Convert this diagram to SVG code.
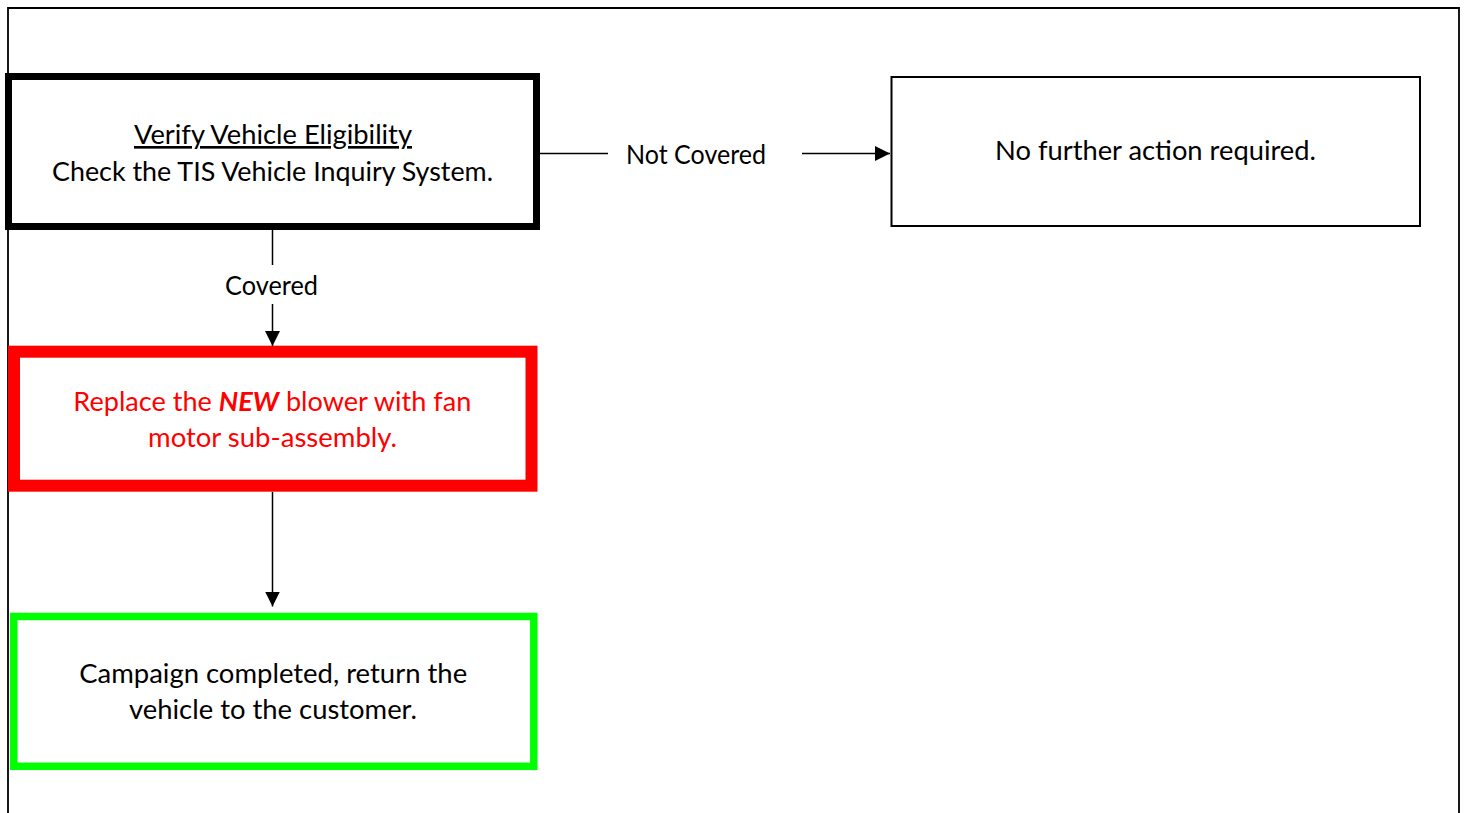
<svg xmlns="http://www.w3.org/2000/svg" width="1466" height="813" viewBox="0 0 1466 813">
<style>
  text { font-family: Lato, "Noto Sans", "Liberation Sans", sans-serif; font-size: 26.5px; fill: #000; text-anchor: middle; }
  .red { fill: #FF0000; }
  .box { fill: #FFFFFF; }
  .conn { stroke: #000; stroke-width: 1.5; fill: none; }
</style>
<defs>
  <marker id="arrow" markerWidth="16" markerHeight="16" refX="15" refY="7.5" orient="auto" markerUnits="userSpaceOnUse">
    <path d="M0,0 L15,7.5 L0,15 Z" fill="#000"/>
  </marker>
</defs>
<rect x="0" y="0" width="1466" height="813" fill="#FFFFFF"/>
<path id="frame" d="M8,813 V8 H1459 V813" fill="none" stroke="#000" stroke-width="1.8"/>

<g id="connectors">
  <line class="conn" x1="540" y1="153.5" x2="608" y2="153.5"/>
  <line class="conn" x1="802" y1="153.5" x2="890" y2="153.5" marker-end="url(#arrow)"/>
  <text x="696" y="164" textLength="140" lengthAdjust="spacingAndGlyphs">Not Covered</text>
  <line class="conn" x1="272.5" y1="230" x2="272.5" y2="265"/>
  <line class="conn" x1="272.5" y1="304" x2="272.5" y2="346" marker-end="url(#arrow)"/>
  <text x="271.5" y="295" textLength="93" lengthAdjust="spacingAndGlyphs">Covered</text>
  <line class="conn" x1="272.5" y1="492" x2="272.5" y2="606.5" marker-end="url(#arrow)"/>
</g>

<g id="verify">
  <rect class="box" x="8.5" y="76.5" width="528" height="150" stroke="#000" stroke-width="7"/>
  <text x="273" y="144" textLength="278" lengthAdjust="spacingAndGlyphs" text-decoration="underline">Verify Vehicle Eligibility</text>
  <text x="272.5" y="180.5" textLength="441" lengthAdjust="spacingAndGlyphs">Check the TIS Vehicle Inquiry System.</text>
</g>

<g id="no-action">
  <rect class="box" x="891.5" y="77" width="528.5" height="149" stroke="#000" stroke-width="2"/>
  <text x="1155.5" y="160" textLength="321" lengthAdjust="spacingAndGlyphs">No further action required.</text>
</g>

<g id="replace">
  <rect class="box" x="14" y="351.7" width="517.5" height="134" stroke="#FF0000" stroke-width="12"/>
  <text class="red" x="272.3" y="411" textLength="398" lengthAdjust="spacingAndGlyphs">Replace the <tspan font-weight="bold" font-style="italic">NEW</tspan> blower with fan</text>
  <text class="red" x="272.5" y="446.7" textLength="249" lengthAdjust="spacingAndGlyphs">motor sub-assembly.</text>
</g>

<g id="complete">
  <rect class="box" x="13.8" y="616.5" width="520" height="149.8" stroke="#00FF00" stroke-width="7.5"/>
  <text x="273.2" y="683.3" textLength="388" lengthAdjust="spacingAndGlyphs">Campaign completed, return the</text>
  <text x="273" y="719.3" textLength="288" lengthAdjust="spacingAndGlyphs">vehicle to the customer.</text>
</g>
</svg>
